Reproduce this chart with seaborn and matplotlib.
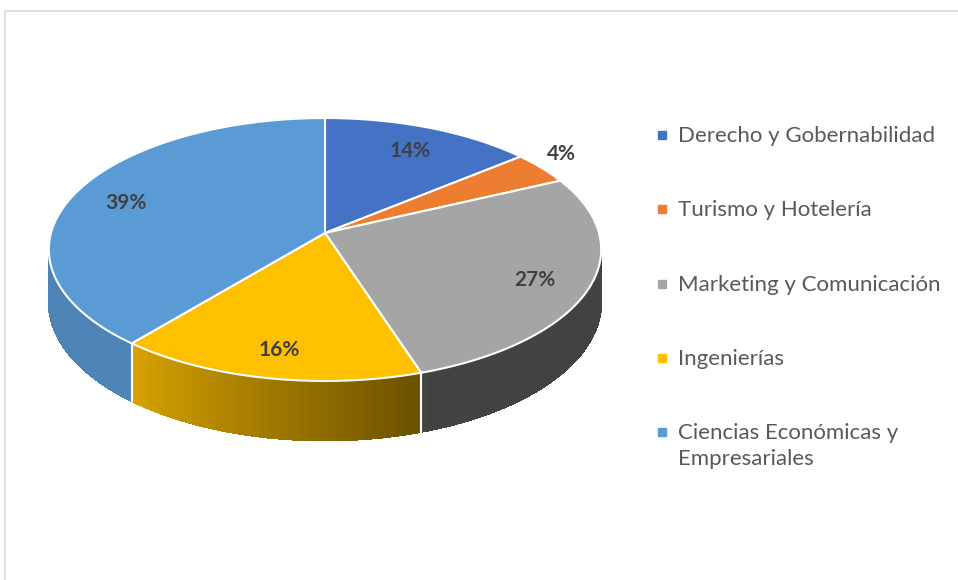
import textwrap
import numpy as np
import matplotlib
matplotlib.use('Agg')
import matplotlib.pyplot as plt
import matplotlib.colors as mcolors
from matplotlib.patches import Polygon, Rectangle
import seaborn as sns

# data
categories = ['Derecho y Gobernabilidad', 'Turismo y Hotelería', 'Marketing y Comunicación',
              'Ingenierías', 'Ciencias Económicas y Empresariales']
shares = [14, 4, 27, 16, 39]
colors = ['#4472C4', '#ED7D31', '#A5A5A5', '#FFC000', '#5B9BD5']

sns.set_theme(style='white')
plt.rcParams['font.family'] = ['Lato', 'DejaVu Sans']

fig = plt.figure(figsize=(9.58, 5.8), dpi=100)
ax = fig.add_axes([0, 0, 1, 1])
ax.set_xlim(0, 958)
ax.set_ylim(580, 0)
ax.axis('off')

# 3d pie geometry (screen units)
CX, CY = 325, 233
RX, RY = 274, 129.4
DIST = 7.97       # camera distance in radii
DEPTH = 52        # thickness of the pie


def project(theta, r=1.0, z=0.0):
    t = np.radians(theta)
    X = r * np.sin(t)
    Y = r * np.cos(t)
    s = DIST / (DIST + Y)
    return CX + RX * X * s, CY - RY * Y * s + DEPTH * z * s


def shade(theta):
    # light coming from the left
    return 0.4 + 0.45 * np.clip((theta - 160) / 60, 0, 1)


total = sum(shares)
bounds = np.concatenate([[0], np.cumsum(shares) / total * 360])

# visible part of the outer wall
th0 = np.degrees(np.arccos(-1 / DIST))
th1 = 360 - th0

for i, c in enumerate(colors):
    a0, a1 = max(bounds[i], th0), min(bounds[i + 1], th1)
    if a1 <= a0:
        continue
    steps = np.linspace(a0, a1, int((a1 - a0) * 2) + 2)
    rgb = np.array(mcolors.to_rgb(c))
    for u, v in zip(steps[:-1], steps[1:]):
        pts = [project(u), project(v), project(v, z=1), project(u, z=1)]
        col = rgb * shade((u + v) / 2)
        ax.add_patch(Polygon(pts, closed=True, fc=col, ec=col, lw=0.8,
                             antialiased=False, zorder=1))
    for b in (bounds[i], bounds[i + 1]):
        if th0 < b < th1:
            xs, ys = zip(project(b), project(b, z=1))
            ax.plot(xs, ys, color='white', lw=1.5, zorder=1.5)

# top faces
for i, c in enumerate(colors):
    arc = np.linspace(bounds[i], bounds[i + 1], 120)
    pts = [(CX, CY)] + [project(a) for a in arc]
    ax.add_patch(Polygon(pts, closed=True, fc=c, ec='white', lw=1.5, zorder=2))

# percentage labels (small slices get their label outside)
for i, v in enumerate(shares):
    mid = (bounds[i] + bounds[i + 1]) / 2
    if v >= 5:
        x, y = project(mid, r=0.8)
        y += 4
    else:
        x, y = project(mid, r=1.1)
        y -= 8
    ax.text(x, y, f'{v}%', ha='center', va='center', fontsize=15, fontweight='bold',
            color='#404040', zorder=3)

# legend
LEG_X, LEG_Y, LEG_STEP = 662, 135, 74.3
for i, (cat, c) in enumerate(zip(categories, colors)):
    y = LEG_Y + i * LEG_STEP
    ax.plot(LEG_X, y, marker='s', ms=6, color=c, ls='', zorder=3)
    ax.text(LEG_X + 16, y - 9, textwrap.fill(cat, 24), ha='left', va='top',
            fontsize=16, color='#595959', linespacing=1.35)

# chart border
ax.add_patch(Rectangle((5.5, 10.5), 1000, 600, fill=False, ec='#D9D9D9', lw=1.2, zorder=0))

fig.savefig('out.png', dpi=100)
